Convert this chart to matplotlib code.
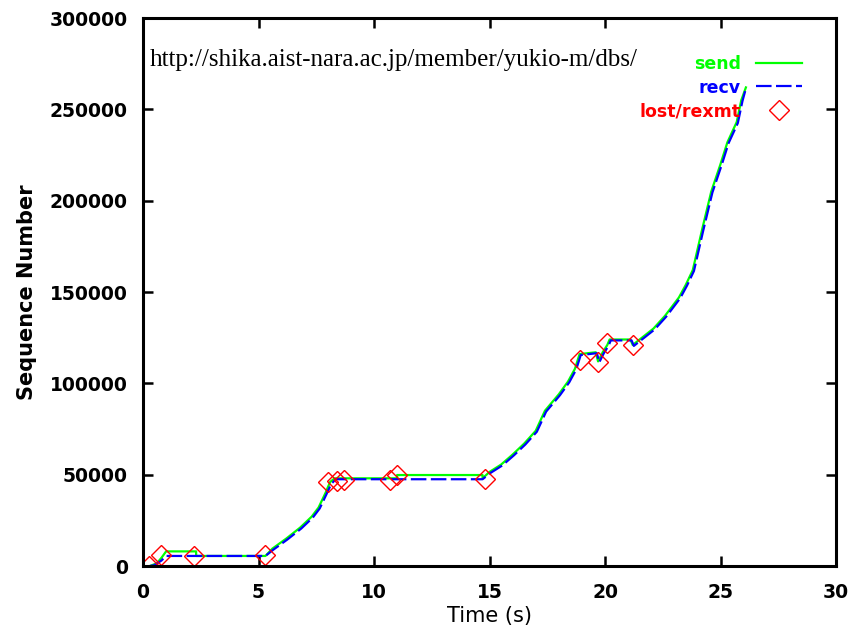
import matplotlib
matplotlib.use("Agg")
import matplotlib.pyplot as plt

# send sequence (time s, seq)
send_t = [0.3, 0.6, 0.8, 1.0, 2.3, 2.3, 5.3, 5.6, 6.2, 6.8, 7.3, 7.6, 7.9, 8.1, 8.3, 11.0, 11.0, 14.7,
          14.7, 15.0, 15.5, 16.0, 16.5, 17.0, 17.4, 18.0, 18.4, 18.7, 18.9, 19.6, 19.7, 19.9, 20.1, 20.2,
          21.1, 21.2, 21.5, 22.1, 22.6, 23.2, 23.5, 23.8, 24.0, 24.2, 24.6, 25.0, 25.3, 25.7, 25.9, 26.1]
send_seq = [0, 1500, 4500, 8000, 8000, 5500, 5500, 9500, 15000, 21000, 27000, 32000, 40000, 46000, 48000, 48000, 49800, 49800,
            48000, 51500, 55500, 61000, 67000, 74000, 85000, 94000, 101000, 108000, 116000, 117000, 112000, 117000, 121000, 124000,
            124000, 121000, 124000, 130000, 137000, 147000, 154000, 162000, 173000, 184000, 205000, 220000, 232000, 243000, 255000, 262000]

# received sequence (time s, seq)
recv_t = [0.3, 0.5, 0.8, 1.0, 5.3, 5.65, 6.25, 6.85, 7.35, 7.65, 7.95, 8.15, 8.35, 14.7,
          15.05, 15.55, 16.05, 16.55, 17.05, 17.45, 18.05, 18.45, 18.75, 18.95, 19.65, 19.75, 19.95, 20.15, 20.25,
          21.15, 21.25, 21.55, 22.15, 22.65, 23.25, 23.55, 23.85, 24.05, 24.25, 24.65, 25.05, 25.35, 25.75, 25.95, 26.1]
recv_seq = [0, 500, 3000, 5500, 5500, 9000, 14500, 20500, 26500, 31500, 39500, 45000, 47500, 47500,
            51000, 55000, 60500, 66500, 73500, 84500, 93500, 100500, 107500, 115500, 116500, 111500, 116500, 120500, 123500,
            123500, 120500, 123500, 129500, 136500, 146500, 153500, 161500, 172500, 183500, 204500, 219500, 231500, 242500, 254500, 261500]

# lost / retransmitted segments
lost_t = [0.25, 0.8, 2.2, 5.3, 8.0, 8.4, 8.7, 10.7, 11.0, 14.8, 18.9, 19.7, 20.1, 21.2]
lost_seq = [0, 6000, 5500, 6000, 46000, 46500, 47000, 47000, 50000, 47600, 112800, 111700, 122000, 121000]

x_ticks = [0, 5, 10, 15, 20, 25, 30]
y_ticks = [0, 50000, 100000, 150000, 200000, 250000, 300000]

plt.rcParams['font.family'] = ['DejaVu Sans']

fig = plt.figure(figsize=(8.49, 6.28), dpi=100)
ax = fig.add_axes([143/849, 1-566/628, (836-143)/849, (566-18)/628])

ax.plot(send_t, send_seq, color='#00ff00', lw=1.6, label='send')
ax.plot(recv_t, recv_seq, color='#0000ff', lw=1.6, dashes=(7, 2), label='recv')
ax.plot(lost_t, lost_seq, linestyle='none', marker='D', markersize=10,
        markerfacecolor='none', markeredgecolor='#ff0000', markeredgewidth=1.0, label='lost/rexmt')

ax.set_xlim(0, 30)
ax.set_ylim(0, 300000)
ax.set_xticks(x_ticks)
ax.set_yticks(y_ticks)
ax.set_xticklabels([str(v) for v in x_ticks], fontweight='bold')
ax.set_yticklabels([str(v) for v in y_ticks], fontweight='bold')
ax.tick_params(direction='in', length=7, width=1.8, top=True, right=True,
               labelsize=13.5, pad=12)
ax.tick_params(axis='y', pad=11)
for s in ax.spines.values():
    s.set_linewidth(2.2)

ax.set_xlabel('Time (s)', fontsize=15, labelpad=3)
ax.set_ylabel('Sequence Number', fontsize=15, fontweight='bold', labelpad=9)

fig.text(150/849, 1-60/628, 'http://shika.aist-nara.ac.jp/member/yukio-m/dbs/',
         fontsize=18, family='Liberation Serif', va='center', ha='left')

leg = ax.legend(loc='upper right', markerfirst=False, frameon=False,
                prop={'size': 12.5, 'weight': 'bold'},
                handlelength=2.65, labelspacing=0.32, handletextpad=0.9,
                bbox_to_anchor=(0.974, 0.961), labelcolor='linecolor')
leg.get_texts()[2].set_color('#ff0000')

fig.savefig('out.png', dpi=100)
